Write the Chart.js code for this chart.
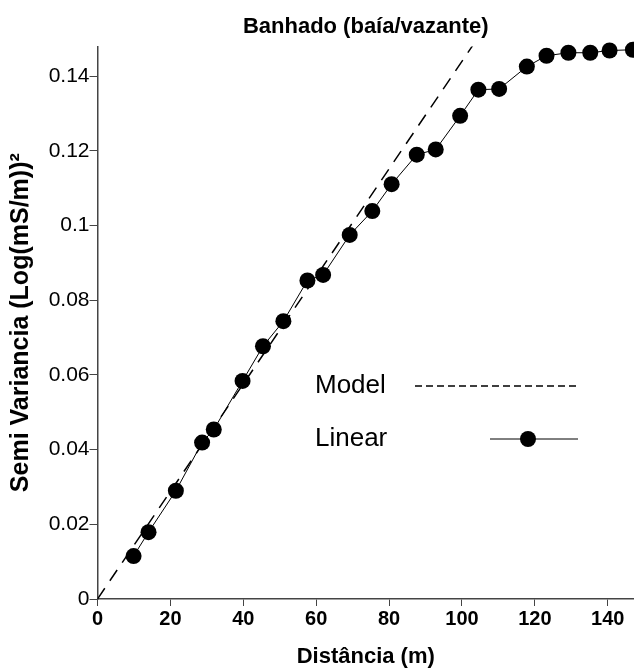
<!DOCTYPE html>
<html>
<head>
<meta charset="utf-8">
<script src="https://cdn.jsdelivr.net/npm/chart.js@4.4.1/dist/chart.umd.min.js"></script>
<style>
  html, body { margin: 0; padding: 0; background: #fff; }
  #wrap { width: 634px; height: 671px; }
</style>
</head>
<body>
<div id="wrap"><canvas id="c"></canvas></div>
<script>
Chart.defaults.font.family = '"Liberation Sans", Arial, sans-serif';
Chart.defaults.color = '#000';

// experimental semivariogram (distance m, semivariance)
const distX = [9.9, 14.0, 21.5, 28.7, 31.9, 39.8, 45.4, 51.0, 57.6, 61.9, 69.2, 75.4,
  80.7, 87.6, 92.8, 99.5, 104.5, 110.2, 117.8, 123.2, 129.2, 135.2, 140.5, 146.9];
const semiY = [0.0115, 0.0179, 0.0290, 0.0419, 0.0454, 0.0584, 0.0677, 0.0744, 0.0853, 0.0868, 0.0975, 0.1039,
  0.1111, 0.1190, 0.1204, 0.1294, 0.1364, 0.1366, 0.1426, 0.1455, 0.1463, 0.1463, 0.1469, 0.1471];
// fitted model (straight line through origin)
const modelX = [0, 110];
const modelY = [0, 0.1584];

const xTicks = [0, 20, 40, 60, 80, 100, 120, 140];
const yTicks = [0, 0.02, 0.04, 0.06, 0.08, 0.1, 0.12, 0.14];

const toPts = (xs, ys) => xs.map((x, i) => ({ x, y: ys[i] }));

// legend drawn inside the plot, like the original figure
const insideLegend = {
  id: 'insideLegend',
  afterDraw(chart, args, o) {
    const ctx = chart.ctx;
    chart.data.datasets.forEach((ds, i) => {
      const y = o.y + i * o.gap;
      ctx.save();
      ctx.font = o.font;
      ctx.fillStyle = '#000';
      ctx.textBaseline = 'middle';
      ctx.fillText(ds.label, o.x, y);
      ctx.strokeStyle = '#000';
      ctx.lineWidth = ds.borderWidth;
      ctx.setLineDash(ds.legendDash || []);
      const x0 = ds.legendDash ? o.dashX0 : o.lineX0;
      ctx.beginPath(); ctx.moveTo(x0, y); ctx.lineTo(o.x1, y); ctx.stroke();
      if (ds.pointRadius) {
        ctx.beginPath(); ctx.arc(o.dotX, y, ds.pointRadius, 0, 2 * Math.PI);
        ctx.fillStyle = '#000'; ctx.fill();
      }
      ctx.restore();
    });
  }
};

new Chart(document.getElementById('c'), {
  type: 'scatter',
  data: {
    datasets: [
      { label: 'Model', data: toPts(modelX, modelY), showLine: true, borderColor: '#000',
        borderWidth: 1.5, borderDash: [13, 9], legendDash: [7, 4], pointRadius: 0 },
      { label: 'Linear', data: toPts(distX, semiY), showLine: true, borderColor: '#000',
        borderWidth: 1, pointRadius: 8, pointHoverRadius: 8, pointBackgroundColor: '#000',
        pointBorderWidth: 0, clip: false },
    ]
  },
  options: {
    responsive: true, maintainAspectRatio: false, animation: false,
    layout: { padding: 0, autoPadding: false },
    plugins: {
      legend: { display: false }, tooltip: { enabled: false },
      title: { display: true, text: 'Banhado (baía/vazante)', fullSize: false,
        font: { size: 22, weight: 'bold', lineHeight: 1.2 }, padding: { top: 14, bottom: 6 } },
      insideLegend: { x: 315, y: 386, gap: 53, font: '26px "Liberation Sans", Arial, sans-serif',
        dashX0: 415, lineX0: 490, x1: 578, dotX: 528 },
    },
    scales: {
      x: {
        type: 'linear', min: 0, max: 147.2,
        afterFit: s => { s.height = 72; },
        afterBuildTicks: s => { s.ticks = xTicks.map(v => ({ value: v })); },
        border: { display: true, color: '#444', width: 1.5 },
        grid: { display: true, drawOnChartArea: false, color: '#444', tickLength: 7 },
        ticks: { font: { size: 20, weight: 'bold' }, padding: 1, maxRotation: 0 },
        title: { display: true, text: 'Distância (m)', font: { size: 22, weight: 'bold', lineHeight: 1 },
          padding: { top: 0, bottom: 3 } },
      },
      y: {
        type: 'linear', min: 0, max: 0.148,
        afterFit: s => { s.width = 97.5; },
        afterBuildTicks: s => { s.ticks = yTicks.map(v => ({ value: v })); },
        border: { display: true, color: '#444', width: 1.5 },
        grid: { display: true, drawOnChartArea: false, color: '#444', tickLength: 8 },
        ticks: { font: { size: 21 }, padding: 0, callback: v => String(+v.toFixed(3)) },
        title: { display: true, text: 'Semi Variancia (Log(mS/m))²', font: { size: 25, weight: 'bold', lineHeight: 1 },
          padding: { top: 9, bottom: 0 } },
      },
    },
  },
  plugins: [insideLegend],
});
</script>
</body>
</html>
